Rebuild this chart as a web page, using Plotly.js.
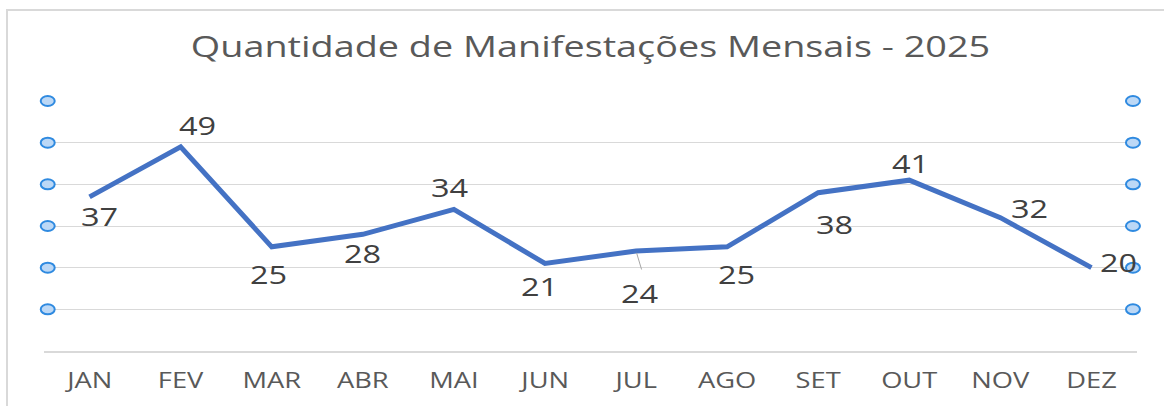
<!DOCTYPE html>
<html>
<head>
<meta charset="utf-8">
<script src="https://cdn.plot.ly/plotly-3.0.1.min.js"></script>
<style>
  html, body { margin: 0; padding: 0; background: #ffffff; }
  #wrap { position: relative; width: 1164px; height: 406px; overflow: hidden; }
  #frame { position: absolute; left: 6px; top: 9px; right: -5px; bottom: -5px;
           border-left: 2px solid #d9d9d9; border-top: 2px solid #d9d9d9; pointer-events: none; }
  #chart { position: absolute; left: 0; top: 0; width: 1164px; height: 406px; }
  g.xtick, .annotation-text, .gtitle {
    transform-box: fill-box; transform-origin: center; transform: scaleX(1.3);
  }
  .gtitle { transform: scaleX(1.26); }
</style>
</head>
<body>
<div id="wrap">
  <div id="chart"></div>
  <div id="frame"></div>
</div>
<script>
// ---- data ----
const months = ["JAN", "FEV", "MAR", "ABR", "MAI", "JUN", "JUL", "AGO", "SET", "OUT", "NOV", "DEZ"];
const values = [37, 49, 25, 28, 34, 21, 24, 25, 38, 41, 32, 20];
const gridValues = [10, 20, 30, 40, 50, 60];
const yMax = 60;
const chartTitle = "Quantidade de Manifestações Mensais - 2025";

// ---- label placement (pixel offsets from each point) ----
const labelDx = [10, 17, -3, 0, -4, -5, 4, 9, 16, 1, 29, 27];
const labelDy = [-19, 22, -27, -19, 22, -22, -42, -27, -31, 17, 10, 6];

const trace = {
  x: months,
  y: values,
  type: "scatter",
  mode: "lines",
  line: { color: "#4472C4", width: 5 },
  hoverinfo: "skip"
};

const annotations = months.map((m, i) => ({
  x: m, y: values[i], xref: "x", yref: "y",
  text: String(values[i]),
  showarrow: false,
  xshift: labelDx[i], yshift: labelDy[i],
  font: { family: "Open Sans, sans-serif", size: 25, color: "#404040" }
}));
// leader line for JUL label
const julIdx = months.indexOf("JUL");
annotations.push({
  x: months[julIdx], y: values[julIdx], xref: "x", yref: "y",
  text: "", showarrow: true, arrowhead: 0, arrowwidth: 1, arrowcolor: "#a6a6a6",
  ax: 6, ay: 20, standoff: 2
});

// selection-handle circles at both ends of each gridline
const shapes = [];
gridValues.forEach(v => {
  [0.0034, 0.9963].forEach(px => {
    shapes.push({
      type: "circle", xref: "paper", yref: "paper",
      xsizemode: "pixel", ysizemode: "pixel",
      xanchor: px, yanchor: v / yMax,
      x0: -7, x1: 7, y0: -5, y1: 5,
      fillcolor: "#bcd8f6", line: { color: "#2f8ae0", width: 2 },
      layer: "above"
    });
  });
});

const layout = {
  width: 1164, height: 406,
  margin: { l: 44, r: 27, t: 101, b: 55 },
  paper_bgcolor: "rgba(0,0,0,0)", plot_bgcolor: "rgba(0,0,0,0)",
  showlegend: false,
  title: {
    text: chartTitle,
    x: 0.5, xref: "paper", xanchor: "center",
    y: 1 - 47 / 406, yref: "container", yanchor: "middle",
    font: { family: "Open Sans, sans-serif", size: 30, color: "#595959" }
  },
  xaxis: {
    type: "category",
    range: [-0.5, 11.5],
    showgrid: false, zeroline: false,
    showline: true, linecolor: "#d9d9d9", linewidth: 2,
    ticks: "", ticklabelstandoff: 10,
    tickfont: { family: "Open Sans, sans-serif", size: 21, color: "#595959" },
    fixedrange: true
  },
  yaxis: {
    range: [0, yMax], dtick: 10, tick0: 0,
    showgrid: true, gridcolor: "#d9d9d9", gridwidth: 1,
    zeroline: false, showline: false, showticklabels: false, ticks: "",
    fixedrange: true
  },
  annotations: annotations,
  shapes: shapes
};

Plotly.newPlot("chart", [trace], layout, { displayModeBar: false, staticPlot: true });
</script>
</body>
</html>
